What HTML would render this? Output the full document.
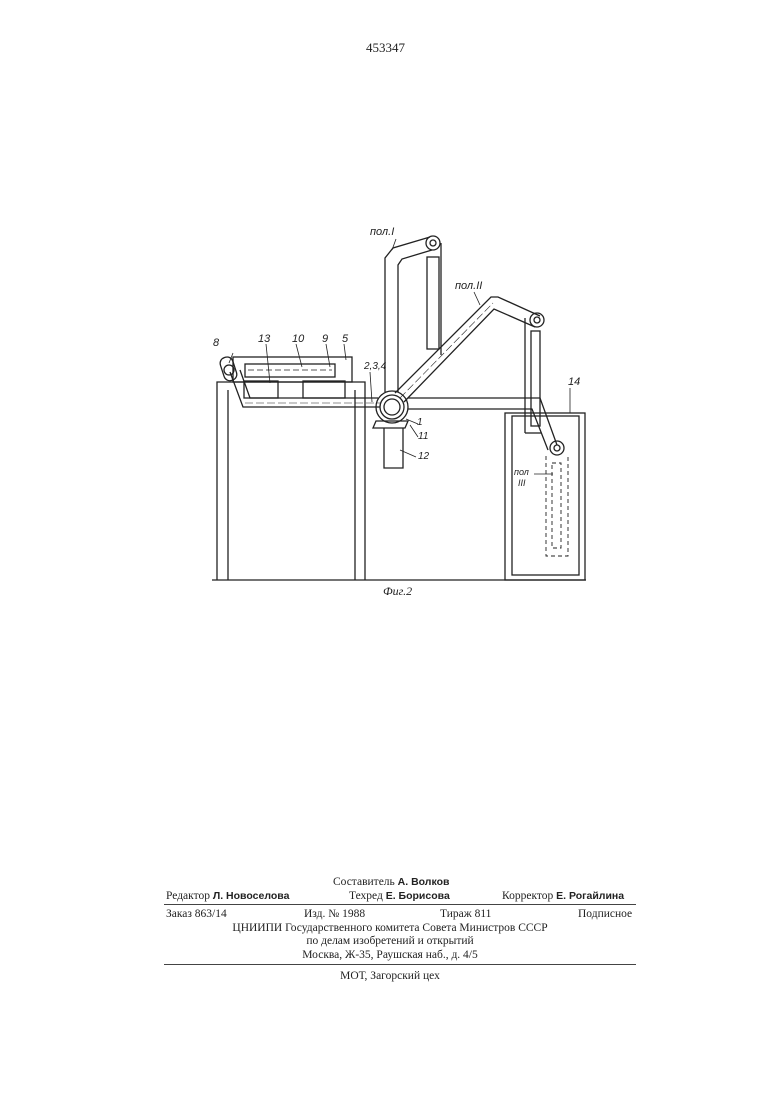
<!DOCTYPE html>
<html><head><meta charset="utf-8">
<style>
html,body{margin:0;padding:0;background:#fff;}
body{width:780px;height:1103px;position:relative;overflow:hidden;font-family:"Liberation Serif",serif;color:#222;}
.t{position:absolute;font-size:11.5px;white-space:nowrap;line-height:1;}
b{font-family:"Liberation Sans",sans-serif;font-size:10.5px;}
</style></head><body>
<div class="t" style="left:366px;top:41px;font-size:13px;">453347</div>

<svg width="780" height="1103" style="position:absolute;left:0;top:0" fill="none" stroke="#222" stroke-width="1.3">
<!-- ground -->
<line x1="212" y1="580" x2="586" y2="580"/>
<!-- left table -->
<polyline points="217,580 217,382 365,382 365,580"/>
<line x1="228" y1="390" x2="228" y2="580"/>
<line x1="355" y1="390" x2="355" y2="580"/>
<!-- tank 14 -->
<rect x="505" y="413" width="80" height="167"/>
<rect x="512" y="416" width="67" height="159"/>
<!-- box 5 -->
<rect x="233" y="357" width="119" height="25"/>
<rect x="245" y="364" width="90" height="13"/>
<line x1="248" y1="370" x2="332" y2="370" stroke-dasharray="6,3" stroke-width="0.8"/>
<!-- blocks 13 -->
<rect x="244" y="381" width="34" height="17"/>
<rect x="303" y="381" width="42" height="17"/>
<!-- horizontal arm -->
<polyline points="230,372 243,407 380,407"/>
<polyline points="240,370 250,398 378,398"/>
<polyline points="408,398 540,398 557,445"/>
<polyline points="408,409 532,409 548,450"/>
<line x1="245" y1="403" x2="380" y2="403" stroke-dasharray="8,3" stroke-width="0.6"/>
<!-- pivot 8 -->
<rect x="222" y="357" width="13" height="24" rx="6" transform="rotate(-18 228 369)"/>
<circle cx="229" cy="370" r="5"/>
<!-- hub -->
<circle cx="392" cy="407" r="16"/>
<circle cx="392" cy="407" r="12"/>
<circle cx="392" cy="407" r="8"/>
<!-- support 11 and post 12 -->
<polygon points="376,421 408,421 405,428 373,428"/>
<polyline points="384,428 384,468 403,468 403,428"/>
<!-- arm position I -->
<polyline points="385,392 385,258 393,248 430,237"/>
<polyline points="398,392 398,265 402,259 432,250"/>
<circle cx="433" cy="243" r="7"/>
<circle cx="433" cy="243" r="3"/>
<line x1="441" y1="243" x2="441" y2="355"/>
<rect x="427" y="257" width="12" height="92"/>
<!-- arm position II -->
<polyline points="395,393 491,297 498,297 540,316"/>
<polyline points="404,402 494,309 535,327"/>
<line x1="400" y1="398" x2="493" y2="303" stroke-dasharray="8,3" stroke-width="0.6"/>
<circle cx="537" cy="320" r="7"/>
<circle cx="537" cy="320" r="3"/>
<line x1="525" y1="318" x2="525" y2="433"/>
<rect x="531" y="331" width="9" height="95"/>
<line x1="525" y1="433" x2="541" y2="433"/>
<!-- position III -->
<circle cx="557" cy="448" r="7"/>
<circle cx="557" cy="448" r="3"/>
<g stroke-dasharray="4,3" stroke-width="0.9">
<rect x="552" y="463" width="9" height="85"/>
<polyline points="546,456 546,556 568,556 568,455"/>
</g>
<!-- leader lines -->
<g stroke-width="0.8">
<line x1="396" y1="239" x2="392" y2="250"/>
<line x1="474" y1="292" x2="480" y2="305"/>
<line x1="233" y1="353" x2="229" y2="363"/>
<line x1="266" y1="344" x2="270" y2="383"/>
<line x1="296" y1="344" x2="302" y2="367"/>
<line x1="326" y1="344" x2="330" y2="367"/>
<line x1="344" y1="344" x2="346" y2="360"/>
<line x1="370" y1="372" x2="372" y2="402"/>
<line x1="406" y1="419" x2="418" y2="424"/>
<line x1="410" y1="425" x2="418" y2="437"/>
<line x1="400" y1="450" x2="416" y2="457"/>
<line x1="570" y1="388" x2="570" y2="413"/>
<line x1="534" y1="474" x2="553" y2="474"/>
</g>
</svg>

<div class="t" style="left:370px;top:227px;font-style:italic;font-family:'Liberation Sans',sans-serif;font-size:11px;">пол.I</div>
<div class="t" style="left:455px;top:281px;font-style:italic;font-family:'Liberation Sans',sans-serif;font-size:11px;">пол.II</div>
<div class="t" style="left:213px;top:338px;font-style:italic;font-family:'Liberation Sans',sans-serif;font-size:11px;">8</div>
<div class="t" style="left:258px;top:334px;font-style:italic;font-family:'Liberation Sans',sans-serif;font-size:11px;">13</div>
<div class="t" style="left:292px;top:334px;font-style:italic;font-family:'Liberation Sans',sans-serif;font-size:11px;">10</div>
<div class="t" style="left:322px;top:334px;font-style:italic;font-family:'Liberation Sans',sans-serif;font-size:11px;">9</div>
<div class="t" style="left:342px;top:334px;font-style:italic;font-family:'Liberation Sans',sans-serif;font-size:11px;">5</div>
<div class="t" style="left:364px;top:362px;font-style:italic;font-family:'Liberation Sans',sans-serif;font-size:10px;">2,3,4</div>
<div class="t" style="left:568px;top:377px;font-style:italic;font-family:'Liberation Sans',sans-serif;font-size:11px;">14</div>
<div class="t" style="left:417px;top:418px;font-style:italic;font-family:'Liberation Sans',sans-serif;font-size:10px;">1</div>
<div class="t" style="left:418px;top:432px;font-style:italic;font-family:'Liberation Sans',sans-serif;font-size:10px;">11</div>
<div class="t" style="left:418px;top:452px;font-style:italic;font-family:'Liberation Sans',sans-serif;font-size:10px;">12</div>
<div class="t" style="left:514px;top:468px;font-style:italic;font-family:'Liberation Sans',sans-serif;font-size:9px;">пол</div>
<div class="t" style="left:518px;top:479px;font-style:italic;font-family:'Liberation Sans',sans-serif;font-size:9px;">III</div>
<div class="t" style="left:383px;top:585px;font-style:italic;font-size:12px;">Фиг.2</div>

<div class="t" style="left:333px;top:877px;">Составитель <b>А. Волков</b></div>
<div class="t" style="left:166px;top:891px;">Редактор <b>Л. Новоселова</b></div>
<div class="t" style="left:349px;top:891px;">Техред <b>Е. Борисова</b></div>
<div class="t" style="left:502px;top:891px;">Корректор <b>Е. Рогайлина</b></div>
<div style="position:absolute;left:164px;top:904px;width:472px;border-top:1px solid #444"></div>
<div class="t" style="left:166px;top:909px;">Заказ 863/14</div>
<div class="t" style="left:304px;top:909px;">Изд. № 1988</div>
<div class="t" style="left:440px;top:909px;">Тираж 811</div>
<div class="t" style="left:578px;top:909px;">Подписное</div>
<div class="t" style="left:0;width:780px;text-align:center;top:923px;">ЦНИИПИ Государственного комитета Совета Министров СССР</div>
<div class="t" style="left:0;width:780px;text-align:center;top:936px;">по делам изобретений и открытий</div>
<div class="t" style="left:0;width:780px;text-align:center;top:950px;">Москва, Ж-35, Раушская наб., д. 4/5</div>
<div style="position:absolute;left:164px;top:964px;width:472px;border-top:1px solid #444"></div>
<div class="t" style="left:0;width:780px;text-align:center;top:971px;">МОТ, Загорский цех</div>
</body></html>
